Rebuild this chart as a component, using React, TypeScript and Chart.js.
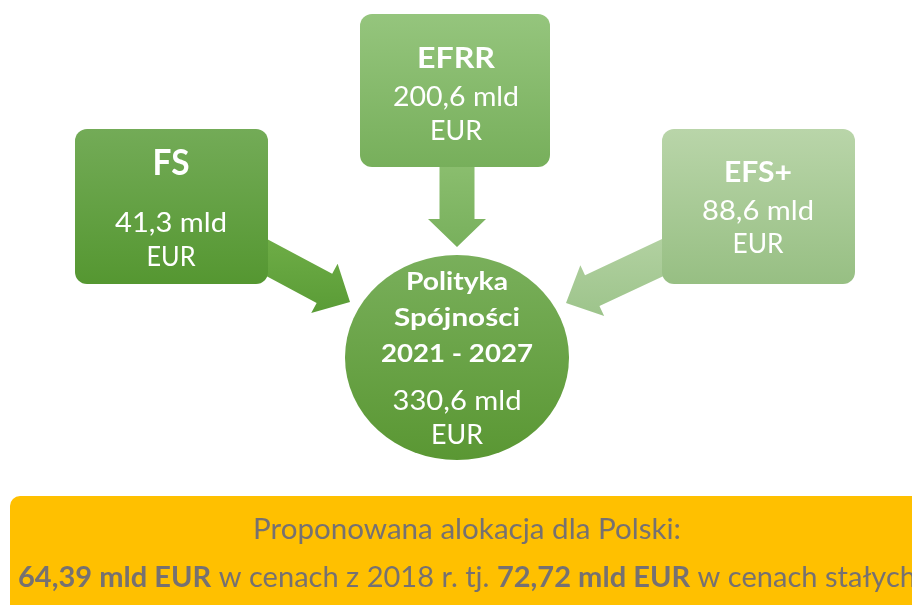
import React, { useEffect, useRef } from 'react';
import { Chart, registerables } from 'chart.js';

Chart.register(...registerables);

// ---------- data ----------
const fundNames = ['FS', 'EFRR', 'EFS+'];
const fundValues = [41.3, 200.6, 88.6];
const totalTitle = ['Polityka', 'Spójności', '2021 - 2027'];
const totalValue = 330.6;
const unitLabel = 'mld';
const currencyLabel = 'EUR';
const polandTitle = 'Proponowana alokacja dla Polski:';
const polandValues = [64.39, 72.72];
const polandTexts = ['w cenach z 2018 r. tj.', 'w cenach stałych'];

// ---------- layout / style ----------
const W = 912;
const H = 605;
const FONT = 'Lato, "Noto Sans", sans-serif';

const fundBoxes = [
  { x0: 75, y0: 129, x1: 268, y1: 284, top: '#73ab57', bot: '#559731', cx: 171,
    title: { y: 175, size: 37, w: 37 }, val: { y: 232, w: 112 }, eur: { y: 266, w: 49 },
    arrow: { tx: 350, ty: 302, dx: 0.882, dy: 0.471, len: 120, sw: 16.5, hw: 28, hl: 29, top: '#70ae48', bot: '#5a9c36' } },
  { x0: 360, y0: 14, x1: 550, y1: 167, top: '#95c57d', bot: '#77af5b', cx: 456,
    title: { y: 68, size: 29, w: 78 }, val: { y: 106, w: 126 }, eur: { y: 140, w: 52 },
    arrow: { tx: 457, ty: 247, dx: 0, dy: 1, len: 90, sw: 17.5, hw: 29, hl: 28, top: '#8cbf70', bot: '#78b05c' } },
  { x0: 662, y0: 129, x1: 855, y1: 284, top: '#b9d5a9', bot: '#97bf83', cx: 758,
    title: { y: 182, size: 28, w: 68 }, val: { y: 220, w: 112 }, eur: { y: 253, w: 51 },
    arrow: { tx: 566, ty: 303, dx: -0.905, dy: 0.425, len: 120, sw: 17, hw: 28, hl: 29, top: '#b2d1a1', bot: '#9dc48b' } },
];

const circle = { cx: 457, cy: 357.5, rx: 112, ry: 102.5, top: '#79af5b', bot: '#5a9733',
  lines: [ { y: 290, w: 102 }, { y: 326, w: 126 }, { y: 362, w: 152 } ],
  val: { y: 410, w: 129 }, eur: { y: 444, w: 52 } };

const yellow = { x0: 10, y0: 496, x1: 940, y1: 640, color: '#FFC000', text: '#767171',
  line1: { x: 253, y: 539, size: 29, w: 428 }, line2: { x: 18, y: 587, size: 28, w: 898 } };

const fmt = (v: number, d: number) => v.toFixed(d).replace('.', ',');

function fitText(ctx: CanvasRenderingContext2D, text: string, x: number, y: number, font: string, targetW: number, align: CanvasTextAlign = 'center') {
  ctx.save();
  ctx.font = font;
  const w = ctx.measureText(text).width;
  const sx = w > 0 ? targetW / w : 1;
  ctx.translate(x, y);
  ctx.scale(sx, 1);
  ctx.textAlign = align;
  ctx.textBaseline = 'alphabetic';
  ctx.fillText(text, 0, 0);
  ctx.restore();
}

const diagramPlugin = {
  id: 'diagram',
  afterDatasetsDraw(chart: any) {
    const ctx: CanvasRenderingContext2D = chart.ctx;
    const sx = chart.scales.x;
    const sy = chart.scales.y;
    const px = (v: number) => sx.getPixelForValue(v);
    const py = (v: number) => sy.getPixelForValue(v);
    const grad = (y0: number, y1: number, c0: string, c1: string) => {
      const g = ctx.createLinearGradient(0, py(y0), 0, py(y1));
      g.addColorStop(0, c0);
      g.addColorStop(1, c1);
      return g;
    };
    ctx.save();

    // arrows
    fundBoxes.forEach((b) => {
      const a = b.arrow;
      const nx = -a.dy, ny = a.dx;
      const bx = a.tx - a.dx * a.hl, by = a.ty - a.dy * a.hl;
      const sx0 = a.tx - a.dx * a.len, sy0 = a.ty - a.dy * a.len;
      const pts = [
        [sx0 + nx * a.sw, sy0 + ny * a.sw],
        [bx + nx * a.sw, by + ny * a.sw],
        [bx + nx * a.hw, by + ny * a.hw],
        [a.tx, a.ty],
        [bx - nx * a.hw, by - ny * a.hw],
        [bx - nx * a.sw, by - ny * a.sw],
        [sx0 - nx * a.sw, sy0 - ny * a.sw],
      ];
      const ys = pts.map((p) => p[1]);
      ctx.fillStyle = grad(Math.min(...ys), Math.max(...ys), a.top, a.bot);
      ctx.beginPath();
      pts.forEach((p, i) => (i ? ctx.lineTo(px(p[0]), py(p[1])) : ctx.moveTo(px(p[0]), py(p[1]))));
      ctx.closePath();
      ctx.fill();
    });

    // boxes
    fundBoxes.forEach((b, i) => {
      ctx.fillStyle = grad(b.y0, b.y1, b.top, b.bot);
      ctx.beginPath();
      (ctx as any).roundRect(px(b.x0), py(b.y0), px(b.x1) - px(b.x0), py(b.y1) - py(b.y0), 12);
      ctx.fill();
      ctx.fillStyle = '#ffffff';
      fitText(ctx, fundNames[i], px(b.cx), py(b.title.y), `bold ${b.title.size}px ${FONT}`, b.title.w);
      fitText(ctx, `${fmt(fundValues[i], 1)} ${unitLabel}`, px(b.cx), py(b.val.y), `26px ${FONT}`, b.val.w);
      fitText(ctx, currencyLabel, px(b.cx), py(b.eur.y), `26px ${FONT}`, b.eur.w);
    });

    // central circle
    ctx.fillStyle = grad(circle.cy - circle.ry, circle.cy + circle.ry, circle.top, circle.bot);
    ctx.beginPath();
    ctx.ellipse(px(circle.cx), py(circle.cy), circle.rx, circle.ry, 0, 0, Math.PI * 2);
    ctx.fill();
    ctx.fillStyle = '#ffffff';
    totalTitle.forEach((t, i) => {
      fitText(ctx, t, px(circle.cx), py(circle.lines[i].y), `bold 25px ${FONT}`, circle.lines[i].w);
    });
    fitText(ctx, `${fmt(totalValue, 1)} ${unitLabel}`, px(circle.cx), py(circle.val.y), `26px ${FONT}`, circle.val.w);
    fitText(ctx, currencyLabel, px(circle.cx), py(circle.eur.y), `26px ${FONT}`, circle.eur.w);

    // yellow box
    ctx.fillStyle = yellow.color;
    ctx.beginPath();
    (ctx as any).roundRect(px(yellow.x0), py(yellow.y0), px(yellow.x1) - px(yellow.x0), py(yellow.y1) - py(yellow.y0), 10);
    ctx.fill();
    ctx.fillStyle = yellow.text;
    fitText(ctx, polandTitle, px(yellow.line1.x), py(yellow.line1.y), `${yellow.line1.size}px ${FONT}`, yellow.line1.w, 'left');

    const segs = [
      { t: `${fmt(polandValues[0], 2)} ${unitLabel} ${currencyLabel}`, b: true },
      { t: ` ${polandTexts[0]} `, b: false },
      { t: `${fmt(polandValues[1], 2)} ${unitLabel} ${currencyLabel}`, b: true },
      { t: ` ${polandTexts[1]}`, b: false },
    ];
    const fs = yellow.line2.size;
    let total = 0;
    const widths = segs.map((s) => {
      ctx.font = `${s.b ? 'bold ' : ''}${fs}px ${FONT}`;
      const w = ctx.measureText(s.t).width;
      total += w;
      return w;
    });
    const scale = yellow.line2.w / total;
    ctx.save();
    ctx.translate(px(yellow.line2.x), py(yellow.line2.y));
    ctx.scale(scale, 1);
    ctx.textAlign = 'left';
    ctx.textBaseline = 'alphabetic';
    let cx = 0;
    segs.forEach((s, i) => {
      ctx.font = `${s.b ? 'bold ' : ''}${fs}px ${FONT}`;
      ctx.fillText(s.t, cx, 0);
      cx += widths[i];
    });
    ctx.restore();

    ctx.restore();
  },
};

export default function App() {
  const ref = useRef<HTMLCanvasElement | null>(null);
  useEffect(() => {
    if (!ref.current) return;
    const nodes = fundNames.map((n, i) => ({ x: fundBoxes[i].cx, y: (fundBoxes[i].y0 + fundBoxes[i].y1) / 2, v: fundValues[i] }));
    const chart = new Chart(ref.current, {
      type: 'scatter',
      data: {
        datasets: [
          { label: 'Fundusze', data: nodes as any, pointRadius: 0, pointHoverRadius: 0, showLine: false },
        ],
      },
      options: {
        animation: false,
        responsive: false,
        devicePixelRatio: 1,
        layout: { padding: 0 },
        events: [],
        plugins: { legend: { display: false }, tooltip: { enabled: false }, title: { display: false } },
        scales: {
          x: { type: 'linear', min: 0, max: W, display: false },
          y: { type: 'linear', min: 0, max: H, reverse: true, display: false },
        },
      },
      plugins: [diagramPlugin],
    });
    return () => chart.destroy();
  }, []);
  return (
    <div style={{ position: 'fixed', left: 0, top: 0, width: W, height: H, background: '#ffffff' }}>
      <canvas ref={ref} width={W} height={H} style={{ width: W, height: H, display: 'block' }} />
    </div>
  );
}
